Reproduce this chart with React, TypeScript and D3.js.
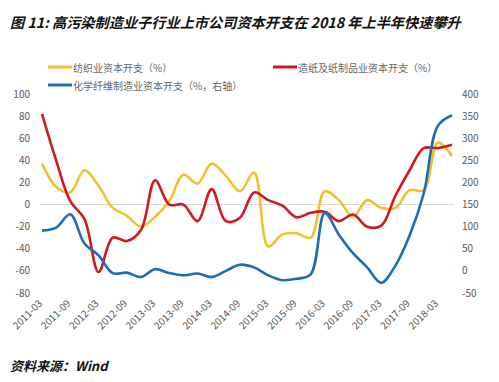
import React from "react";
import * as d3 from "d3";

const quarters = [
  "2011-03","2011-06","2011-09","2011-12",
  "2012-03","2012-06","2012-09","2012-12",
  "2013-03","2013-06","2013-09","2013-12",
  "2014-03","2014-06","2014-09","2014-12",
  "2015-03","2015-06","2015-09","2015-12",
  "2016-03","2016-06","2016-09","2016-12",
  "2017-03","2017-06","2017-09","2017-12",
  "2018-03","2018-06",
];

// 纺织业资本开支（%） - left axis
const textile = [37,16,11,31,17,-3,-10,-20,-11,3,27,19,37,26,12,29,-38,-27,-26,-30,12,4,-11,4,-3,-3,13,13,56,44];
// 造纸及纸制品业资本开支（%） - left axis
const paper = [82,40,3,-13,-61,-30,-33,-23,22,0,0,-15,14,-15,-12,11,4,-1,-11.5,-7.5,-6.5,-15,-9,-20,-19,8,31,51,51,54];
// 化学纤维制造业资本开支（%，右轴） - right axis
const fiber = [91,98,128,62,35,-5,-4,-14,4,-5,-10,-6,-14,0,14,8,-10,-21,-18,-8,131,82,40,8,-27,12,80,175,328,352];

const leftTicks = [-80,-60,-40,-20,0,20,40,60,80,100];
const rightTicks = [-50,0,50,100,150,200,250,300,350,400];
const xLabels = quarters.filter((q) => q.endsWith("-03") || q.endsWith("-09"));

const title = "图 11: 高污染制造业子行业上市公司资本开支在 2018 年上半年快速攀升";
const source = "资料来源：Wind";
const legendItems = [
  { name: "纺织业资本开支（%）", color: "#F2C12E" },
  { name: "造纸及纸制品业资本开支（%）", color: "#D01A1F" },
  { name: "化学纤维制造业资本开支（%，右轴）", color: "#1F6EAD" },
];

const FONT = "'Noto Sans CJK SC', 'Noto Sans', sans-serif";

export default function App() {
  const x = d3.scalePoint<string>().domain(quarters).range([42, 452]);
  const yL = d3.scaleLinear().domain([-80, 100]).range([293, 94]);
  const yR = d3.scaleLinear().domain([-50, 400]).range([293, 94]);

  const curve = d3.curveCatmullRom.alpha(0.5);
  const lineL = d3.line<number>().x((_, i) => x(quarters[i])!).y((d) => yL(d)).curve(curve);
  const lineR = d3.line<number>().x((_, i) => x(quarters[i])!).y((d) => yR(d)).curve(curve);

  const legendPos = [
    { x: 48, y: 67 },
    { x: 273, y: 67 },
    { x: 48, y: 85 },
  ];

  return (
    <svg
      width={499}
      height={382}
      style={{ position: "absolute", left: 0, top: 0, background: "#fff" }}
      fontFamily={FONT}
    >
      <rect width={499} height={382} fill="#fff" />
      <text x={10} y={28} fontSize={14.2} fontWeight="bold" fontStyle="italic" fill="#111">
        {title}
      </text>

      {legendItems.map((it, i) => (
        <g key={it.name} transform={`translate(${legendPos[i].x},${legendPos[i].y})`}>
          <line x1={0} x2={24} y1={0} y2={0} stroke={it.color} strokeWidth={3} />
          <text x={25} y={0} dominantBaseline="central" fontSize={10} fill="#666">
            {it.name}
          </text>
        </g>
      ))}

      <line x1={40} x2={454} y1={yL(0)} y2={yL(0)} stroke="#d9d9d9" strokeWidth={1} />

      {leftTicks.map((t) => (
        <text key={"l" + t} x={30} y={yL(t)} dy="0.35em" textAnchor="end" fontSize={10} fill="#595959">
          {t}
        </text>
      ))}
      {rightTicks.map((t) => (
        <text key={"r" + t} x={462} y={yR(t)} dy="0.35em" textAnchor="start" fontSize={10} fill="#595959">
          {t}
        </text>
      ))}
      {xLabels.map((q) => (
        <text
          key={q}
          transform={`translate(${x(q)! + 1},304) rotate(-45)`}
          textAnchor="end"
          fontSize={10}
          fill="#595959"
        >
          {q}
        </text>
      ))}

      <path d={lineL(textile) || ""} fill="none" stroke="#F2C12E" strokeWidth={2.6} />
      <path d={lineL(paper) || ""} fill="none" stroke="#D01A1F" strokeWidth={2.6} />
      <path d={lineR(fiber) || ""} fill="none" stroke="#1F6EAD" strokeWidth={2.6} />

      <text x={10} y={365} dominantBaseline="central" fontSize={13} fontWeight="bold" fontStyle="italic" fill="#111">
        {source}
      </text>
    </svg>
  );
}
